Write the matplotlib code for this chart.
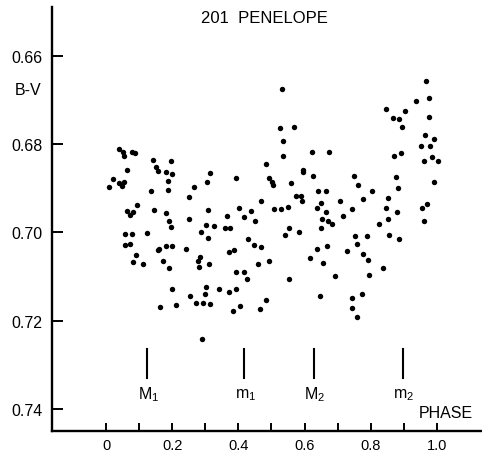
import matplotlib
matplotlib.use('Agg')
import matplotlib.pyplot as plt
from matplotlib.ticker import FixedLocator

plt.rcParams['font.family'] = ['Liberation Sans', 'DejaVu Sans']

# B-V colour index against rotational phase
phase = [0.531, 0.967, 0.975, 0.937, 0.846, 0.904, 0.868, 0.886, 0.893, 0.975,
         0.526, 0.567, 0.534, 0.964, 0.990, 0.951, 0.979, 0.039, 0.052, 0.078,
         0.088, 0.536, 0.623, 0.673, 0.871, 0.892, 0.985, 0.054, 0.141, 0.196,
         0.150, 0.156, 0.181, 0.199, 0.187, 0.188, 0.064, 0.021, 0.010, 0.040,
         0.048, 0.055, 0.135, 0.063, 0.073, 0.082, 0.094, 0.146, 0.182, 0.190,
         0.197, 0.058, 0.079, 0.124, 0.056, 0.073, 0.092, 0.082, 0.113, 0.156,
         0.161, 0.181, 0.200, 0.173, 0.190, 0.200, 0.163, 0.243, 0.252, 0.252,
         0.265, 0.304, 0.313, 0.309, 0.301, 0.288, 0.308, 0.327, 0.278, 0.285,
         0.280, 0.310, 0.254, 0.271, 0.294, 0.315, 0.301, 0.300, 0.341, 0.371,
         0.392, 0.365, 0.360, 0.375, 0.372, 0.388, 0.394, 0.403, 0.416, 0.437,
         0.451, 0.429, 0.448, 0.467, 0.458, 0.394, 0.418, 0.425, 0.405, 0.484,
         0.493, 0.501, 0.504, 0.468, 0.493, 0.484, 0.558, 0.508, 0.528, 0.551,
         0.541, 0.553, 0.584, 0.553, 0.574, 0.588, 0.591, 0.594, 0.595, 0.626,
         0.641, 0.666, 0.649, 0.638, 0.664, 0.653, 0.670, 0.682, 0.650, 0.637,
         0.616, 0.669, 0.656, 0.692, 0.646, 0.707, 0.717, 0.742, 0.750, 0.762,
         0.776, 0.805, 0.751, 0.758, 0.729, 0.788, 0.777, 0.791, 0.795, 0.836,
         0.824, 0.851, 0.846, 0.853, 0.854, 0.880, 0.881, 0.876, 0.884, 0.774,
         0.743, 0.742, 0.955, 0.969, 0.961, 0.962, 1.002, 0.991, 0.211, 0.289,
         0.384, 0.465, 0.759]
bv = [0.6675, 0.6656, 0.6695, 0.6703, 0.6720, 0.6725, 0.6740, 0.6743, 0.6760, 0.6738,
      0.6763, 0.6760, 0.6792, 0.6779, 0.6788, 0.6804, 0.6804, 0.6811, 0.6817, 0.6818,
      0.6820, 0.6826, 0.6818, 0.6818, 0.6827, 0.6821, 0.6830, 0.6826, 0.6836, 0.6837,
      0.6852, 0.6861, 0.6864, 0.6867, 0.6884, 0.6903, 0.6859, 0.6879, 0.6896, 0.6888,
      0.6894, 0.6885, 0.6907, 0.6951, 0.6960, 0.6953, 0.6938, 0.6949, 0.6956, 0.6973,
      0.6988, 0.7003, 0.7003, 0.7002, 0.7028, 0.7027, 0.7051, 0.7066, 0.7071, 0.7039,
      0.7037, 0.7031, 0.7031, 0.7064, 0.7081, 0.7129, 0.7168, 0.7037, 0.6969, 0.6920,
      0.6897, 0.6885, 0.6866, 0.6950, 0.6984, 0.6998, 0.7013, 0.6986, 0.7065, 0.7056,
      0.7079, 0.7071, 0.7145, 0.7160, 0.7160, 0.7162, 0.7124, 0.7139, 0.7128, 0.7136,
      0.7128, 0.6963, 0.6990, 0.6989, 0.7045, 0.7039, 0.6877, 0.6945, 0.6965, 0.6952,
      0.6975, 0.7015, 0.7028, 0.7034, 0.7071, 0.7089, 0.7089, 0.7106, 0.7167, 0.6844,
      0.6877, 0.6886, 0.6892, 0.6929, 0.7064, 0.7154, 0.6888, 0.6947, 0.6947, 0.6942,
      0.7006, 0.6989, 0.7000, 0.7105, 0.6918, 0.6918, 0.6929, 0.6858, 0.6863, 0.6873,
      0.6907, 0.6907, 0.6933, 0.6944, 0.6953, 0.6969, 0.6973, 0.6982, 0.6990, 0.7037,
      0.7058, 0.7031, 0.7070, 0.7098, 0.7144, 0.6928, 0.6963, 0.6947, 0.6873, 0.6892,
      0.6924, 0.6907, 0.7009, 0.7026, 0.7041, 0.7009, 0.7049, 0.7063, 0.7096, 0.7081,
      0.6981, 0.6922, 0.6944, 0.6969, 0.7005, 0.6954, 0.6900, 0.6875, 0.7014, 0.7140,
      0.7148, 0.7171, 0.6945, 0.6936, 0.6974, 0.6838, 0.6838, 0.6886, 0.7165, 0.7241,
      0.7177, 0.7173, 0.7192]

# lightcurve maxima / minima marked under the points
mark_phase = [0.125, 0.418, 0.627, 0.897]
mark_label = ['$\\mathregular{M_1}$', '$\\mathregular{m_1}$',
              '$\\mathregular{M_2}$', '$\\mathregular{m_2}$']

fig = plt.figure(figsize=(4.82, 4.56), dpi=100)
ax = fig.add_axes([0.108, 0.0526, 0.892, 0.930])

ax.plot(phase, bv, 'o', color='black', markersize=3.9, markeredgewidth=0)

for p, lab in zip(mark_phase, mark_label):
    ax.plot([p, p], [0.7265, 0.7330], color='black', lw=1.5)
    ax.text(p + 0.003, 0.7366, lab, ha='center', va='center', fontsize=11.5)

ax.set_xlim(-0.163, 1.136)
ax.set_ylim(0.7450, 0.6489)

ax.spines['top'].set_visible(False)
ax.spines['right'].set_visible(False)
ax.spines['left'].set_linewidth(1.7)
ax.spines['bottom'].set_linewidth(1.7)

ax.set_xticks([0, 0.2, 0.4, 0.6, 0.8, 1.0])
ax.set_xticklabels(['0', '0.2', '0.4', '0.6', '0.8', '1.0'])
ax.xaxis.set_minor_locator(FixedLocator([0.1, 0.3, 0.5, 0.7, 0.9]))
ax.set_yticks([0.66, 0.68, 0.70, 0.72, 0.74])
ax.set_yticklabels(['0.66', '0.68', '0.70', '0.72', '0.74'])
ax.tick_params(axis='x', which='both', direction='in', length=6, width=1.4,
               labelsize=10.5, pad=5)
ax.tick_params(axis='y', direction='in', length=8, width=1.4,
               labelsize=11.5, pad=7)

ax.text(0.48, 0.6512, '201  PENELOPE', ha='center', va='center', fontsize=12)
ax.text(-0.236, 0.6675, 'B-V', ha='center', va='center', fontsize=11.5)
ax.text(1.027, 0.7407, 'PHASE', ha='center', va='center', fontsize=11.5)

fig.savefig('out.png', dpi=100)
